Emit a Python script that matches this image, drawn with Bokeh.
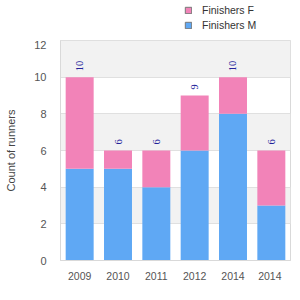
from bokeh.plotting import figure
from bokeh.models import ColumnDataSource, Legend, LegendItem, LabelSet, FactorRange
from bokeh.layouts import column
from bokeh.embed import file_html
from bokeh.resources import INLINE
import numpy as np

years = ["2009", "2010", "2011", "2012", "2014", "2014 "]
finishers_m = [5, 5, 4, 6, 8, 3]
finishers_f = [5, 1, 2, 3, 2, 3]
totals = [m + f for m, f in zip(finishers_m, finishers_f)]

PINK = "#f283b8"
BLUE = "#5fa8f4"
FONT = "Liberation Sans"

src = ColumnDataSource(dict(year=years, m=finishers_m, f=finishers_f,
                            total=totals, total_txt=[str(t) for t in totals]))

p = figure(x_range=FactorRange(*years), y_range=(0, 12), width=300, height=260,
           output_backend="svg", toolbar_location=None,
           min_border_left=60, min_border_right=10, min_border_top=0, min_border_bottom=40)

r = p.vbar_stack(["m", "f"], x="year", width=0.73, source=src,
                 color=[BLUE, PINK], line_color=None)

labels = LabelSet(x="year", y="total", text="total_txt", source=src, angle=np.pi / 2,
                  text_align="left", text_baseline="middle", y_offset=6,
                  text_font=FONT, text_font_size="10.5px", text_color="#22229a")
p.add_layout(labels)

p.background_fill_color = "white"
p.ygrid.band_fill_color = "#f2f2f2"
p.ygrid.band_fill_alpha = 1
p.ygrid.grid_line_color = "#e0e0e0"
p.xgrid.grid_line_color = None
p.outline_line_color = "#d9d9d9"

p.yaxis.ticker = [0, 2, 4, 6, 8, 10, 12]
p.yaxis.axis_label = "Count of runners"
for ax in (p.xaxis[0], p.yaxis[0]):
    ax.axis_line_color = "#d9d9d9"
    ax.major_tick_line_color = None
    ax.minor_tick_line_color = None
    ax.major_label_text_font = FONT
    ax.major_label_text_color = "#555555"
    ax.axis_label_text_font = FONT
p.yaxis.major_label_text_font_size = "11px"
p.xaxis.major_label_text_font_size = "10.5px"
p.yaxis.axis_label_text_font_size = "11px"
p.yaxis.axis_label_text_font_style = "normal"
p.yaxis.axis_label_text_color = "#444444"
p.yaxis.axis_label_standoff = 14
p.xaxis.major_label_standoff = 3
p.yaxis.major_label_standoff = 8
p.x_range.range_padding = 0
p.x_range.group_padding = 0

# legend strip above the chart (its bars lie outside its visible range)
top = figure(width=300, height=40, output_backend="svg", toolbar_location=None,
             x_range=FactorRange(*years), y_range=(100, 101),
             min_border_left=60, min_border_right=10, min_border_top=0, min_border_bottom=0)
top.axis.visible = False
top.grid.visible = False
top.outline_line_color = None
tr = top.vbar_stack(["m", "f"], x="year", width=0.73, source=src,
                    fill_color=[BLUE, PINK], line_color="#777777")
legend = Legend(items=[LegendItem(label="Finishers F", renderers=[tr[1]]),
                       LegendItem(label="Finishers M", renderers=[tr[0]])],
                location=(124, 9), orientation="vertical",
                label_text_font=FONT, label_text_font_size="10.5px",
                label_text_color="#333333", glyph_width=8, glyph_height=8,
                label_height=12, spacing=3, padding=2, margin=0, label_standoff=10,
                border_line_color=None, background_fill_alpha=0)
legend.item_background_fill_alpha = 0
top.add_layout(legend)

layout = column(top, p, spacing=0)
open("out.html", "w").write(file_html(layout, INLINE))
